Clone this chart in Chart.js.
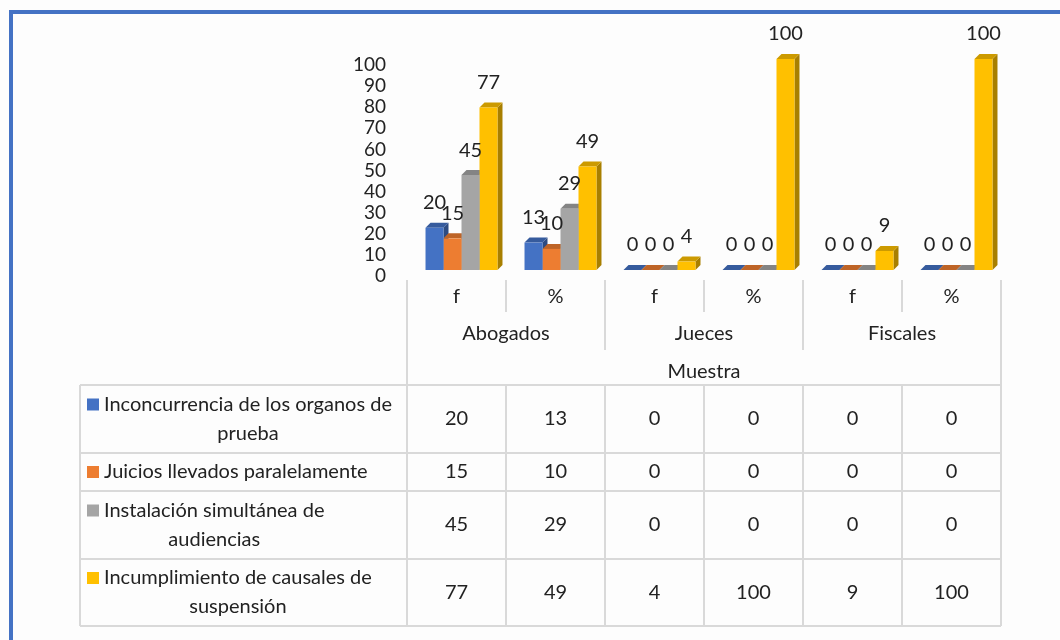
<!DOCTYPE html>
<html><head><meta charset="utf-8">
<script src="https://cdn.jsdelivr.net/npm/chart.js@4/dist/chart.umd.min.js"></script>
<style>html,body{margin:0;padding:0;background:#fdfdfd}canvas{display:block}</style>
</head><body>
<canvas id="c" width="1060" height="640"></canvas>
<script>
// ---- data ----
const categories = ['f', '%', 'f', '%', 'f', '%'];
const groupLabels = ['Abogados', 'Jueces', 'Fiscales'];
const axisTitle = 'Muestra';
const seriesNames = [
  'Inconcurrencia de los organos de prueba',
  'Juicios llevados paralelamente',
  'Instalación simultánea de audiencias',
  'Incumplimiento de causales de suspensión'
];
const inconcurrencia = [20, 13, 0, 0, 0, 0];
const juicios = [15, 10, 0, 0, 0, 0];
const instalacion = [45, 29, 0, 0, 0, 0];
const incumplimiento = [77, 49, 4, 100, 9, 100];
const yMin = 0, yMax = 100, yStep = 10;

// ---- styles ----
const seriesColors = ['#4472C4', '#ED7D31', '#A5A5A5', '#FFC000'];
const FONT = 'Lato, "Open Sans", sans-serif';
const TXT = '#222222';
const GRID = '#D9D9D9';
const D = 5;       // 3D depth
const SHIFT = 5;   // table grid offset vs bar columns

function shade(hex, f) {
  const n = parseInt(hex.slice(1), 16);
  const r = (n >> 16) & 255, g = (n >> 8) & 255, b = n & 255;
  return 'rgb(' + Math.round(r * f) + ',' + Math.round(g * f) + ',' + Math.round(b * f) + ')';
}

const frame = {
  id: 'frame',
  beforeDraw(chart) {
    const ctx = chart.ctx;
    ctx.save();
    ctx.fillStyle = '#fdfdfd';
    ctx.fillRect(0, 0, chart.width, chart.height);
    ctx.fillStyle = '#4472C4';
    ctx.fillRect(9, 10, chart.width - 9, 4);
    ctx.fillRect(9, 10, 4, chart.height - 10);
    ctx.restore();
  }
};

const bar3d = {
  id: 'bar3d',
  beforeDatasetsDraw(chart) {
    const ctx = chart.ctx;
    const n = chart.data.labels.length;
    ctx.save();
    for (let i = 0; i < n; i++) {
      const els = chart.data.datasets.map((d, k) => chart.getDatasetMeta(k).data[i].getProps(['x', 'y', 'base', 'width'], true));
      els.forEach((p, k) => {
        const r = p.x + p.width / 2;
        ctx.fillStyle = shade(seriesColors[k], 0.66);
        ctx.beginPath();
        ctx.moveTo(r, p.y); ctx.lineTo(r + D, p.y - D); ctx.lineTo(r + D, p.base - D); ctx.lineTo(r, p.base);
        ctx.closePath(); ctx.fill();
      });
      els.forEach((p, k) => {
        const l = p.x - p.width / 2, r = p.x + p.width / 2;
        ctx.fillStyle = shade(seriesColors[k], 0.8);
        ctx.beginPath();
        ctx.moveTo(l, p.y); ctx.lineTo(l + D, p.y - D); ctx.lineTo(r + D, p.y - D); ctx.lineTo(r, p.y);
        ctx.closePath(); ctx.fill();
      });
    }
    ctx.restore();
  },
  afterDatasetsDraw(chart) {
    const ctx = chart.ctx;
    ctx.save();
    ctx.font = '20px ' + FONT;
    ctx.fillStyle = TXT;
    ctx.textAlign = 'center';
    ctx.textBaseline = 'middle';
    chart.data.datasets.forEach((ds, k) => {
      chart.getDatasetMeta(k).data.forEach((el, i) => {
        const p = el.getProps(['x', 'y'], true);
        ctx.fillText(String(ds.data[i]), p.x, p.y - 25);
      });
    });
    ctx.restore();
  }
};

function wrap(ctx, text, maxW) {
  const words = text.split(' ');
  const lines = [];
  let cur = '';
  words.forEach(w => {
    const t = cur ? cur + ' ' + w : w;
    if (ctx.measureText(t).width > maxW && cur) { lines.push(cur); cur = w; } else cur = t;
  });
  if (cur) lines.push(cur);
  return lines;
}

const table = {
  id: 'table',
  afterDraw(chart) {
    const ctx = chart.ctx;
    const xs = chart.scales.x;
    const n = chart.data.labels.length;
    const half = (xs.getPixelForValue(1) - xs.getPixelForValue(0)) / 2;
    const edge = i => xs.getPixelForValue(i) - half - SHIFT;   // left edge of column i
    const mid = i => xs.getPixelForValue(i) - SHIFT;
    const axTop = 280, innerBot = 312, groupBot = 350;
    const tTop = 385, rows = [453, 491, 559, 626], tLeft = 80;
    ctx.save();
    ctx.strokeStyle = GRID;
    ctx.lineWidth = 2;
    const line = (x1, y1, x2, y2) => { ctx.beginPath(); ctx.moveTo(x1, y1); ctx.lineTo(x2, y2); ctx.stroke(); };
    line(edge(0), axTop, edge(0), rows[3]);
    line(edge(n), axTop, edge(n), rows[3]);
    for (let i = 1; i < n; i++) {
      line(edge(i), axTop, edge(i), i % 2 === 1 ? innerBot : groupBot);
      line(edge(i), tTop, edge(i), rows[3]);
    }
    line(tLeft, tTop, edge(n), tTop);
    rows.forEach(y => line(tLeft, y, edge(n), y));
    line(tLeft, tTop, tLeft, rows[3]);

    ctx.fillStyle = TXT;
    ctx.font = '20px ' + FONT;
    ctx.textAlign = 'center';
    ctx.textBaseline = 'middle';
    categories.forEach((c, i) => ctx.fillText(c, mid(i), 297));
    groupLabels.forEach((g, j) => ctx.fillText(g, edge(2 * j + 1), 334));
    ctx.fillText(axisTitle, (edge(0) + edge(n)) / 2, 372);

    const tops = [tTop].concat(rows.slice(0, 3));
    chart.data.datasets.forEach((ds, k) => {
      const cy = (tops[k] + rows[k]) / 2;
      ds.data.forEach((v, i) => ctx.fillText(String(v), mid(i), cy));
      const lines = wrap(ctx, ds.label, 298);
      const maxW = Math.max.apply(null, lines.map(s => ctx.measureText(s).width));
      const lh = 29;
      const y0 = cy - (lines.length - 1) * lh / 2;
      const tx = 104;
      lines.forEach((s, li) => ctx.fillText(s, tx + maxW / 2, y0 + li * lh));
      ctx.fillStyle = seriesColors[k];
      ctx.fillRect(87, y0 - 6, 12, 12);
      ctx.fillStyle = TXT;
    });
    ctx.restore();
  }
};

const dataSeries = [inconcurrencia, juicios, instalacion, incumplimiento];
new Chart(document.getElementById('c'), {
  type: 'bar',
  data: {
    labels: categories,
    datasets: dataSeries.map((d, k) => ({
      label: seriesNames[k],
      data: d,
      backgroundColor: seriesColors[k],
      borderWidth: 0,
      barPercentage: 1,
      categoryPercentage: 0.727,
      clip: false
    }))
  },
  options: {
    responsive: false,
    devicePixelRatio: 1,
    animation: false,
    layout: { padding: { left: 0, top: 59, right: 54, bottom: 370 } },
    plugins: { legend: { display: false }, tooltip: { enabled: false } },
    scales: {
      x: { display: false },
      y: {
        min: yMin, max: yMax,
        ticks: { stepSize: yStep, autoSkip: false, color: TXT, font: { family: FONT, size: 19 }, padding: 26, labelOffset: 6 },
        grid: { display: false, drawTicks: false },
        border: { display: false },
        afterFit(s) { s.width = 412; }
      }
    }
  },
  plugins: [frame, bar3d, table]
});
</script>
</body></html>
